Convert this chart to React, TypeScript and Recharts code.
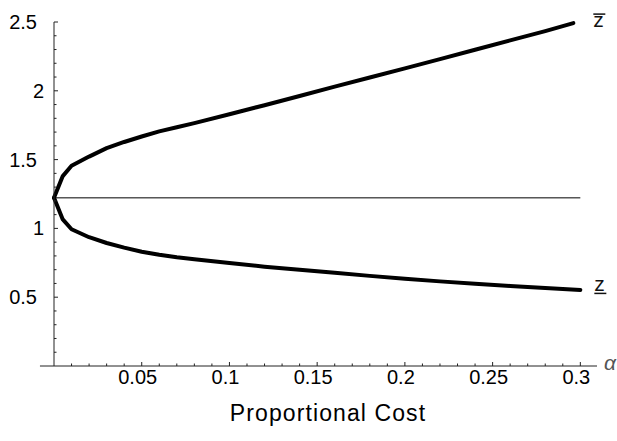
import React from 'react';
import { LineChart, Line, XAxis, YAxis, ReferenceLine } from 'recharts';

const alphaUpper = [0, 0.005, 0.01, 0.02, 0.03, 0.04, 0.05, 0.06, 0.07, 0.08, 0.1, 0.12, 0.14, 0.16, 0.18, 0.2, 0.22, 0.24, 0.26, 0.28, 0.296];
const zUpper = [1.222, 1.38, 1.455, 1.522, 1.583, 1.628, 1.668, 1.705, 1.735, 1.765, 1.83, 1.895, 1.962, 2.03, 2.097, 2.163, 2.23, 2.298, 2.366, 2.434, 2.492];
const alphaLower = [0, 0.005, 0.01, 0.02, 0.03, 0.04, 0.05, 0.06, 0.07, 0.08, 0.1, 0.12, 0.14, 0.16, 0.18, 0.2, 0.22, 0.24, 0.26, 0.28, 0.3];
const zLower = [1.222, 1.065, 0.994, 0.936, 0.894, 0.86, 0.83, 0.808, 0.79, 0.775, 0.748, 0.722, 0.7, 0.678, 0.655, 0.634, 0.615, 0.598, 0.582, 0.567, 0.553];
const zStar = 1.222;

const xTicks = [0.01, 0.02, 0.03, 0.04, 0.05, 0.06, 0.07, 0.08, 0.09, 0.1, 0.11, 0.12, 0.13, 0.14, 0.15, 0.16, 0.17, 0.18, 0.19, 0.2, 0.21, 0.22, 0.23, 0.24, 0.25, 0.26, 0.27, 0.28, 0.29, 0.3];
const yTicks = [0.1, 0.2, 0.3, 0.4, 0.5, 0.6, 0.7, 0.8, 0.9, 1, 1.1, 1.2, 1.3, 1.4, 1.5, 1.6, 1.7, 1.8, 1.9, 2, 2.1, 2.2, 2.3, 2.4, 2.5];
const xDomain = [0, 0.3095];
const yDomain = [0, 2.5];
const xAxisLeftExtent = -0.008;

const xTitle = 'Proportional Cost';
const xSymbol = 'α';
const upperName = 'z';
const lowerName = 'z';

const upperData = alphaUpper.map((a, i) => ({ a, z: zUpper[i] }));
const lowerData = alphaLower.map((a, i) => ({ a, z: zLower[i] }));

const FONT = '"Liberation Sans", Arial, Helvetica, sans-serif';
const AXIS = '#222';

const isMajor = (v: number, step: number) => Math.abs(v / step - Math.round(v / step)) < 1e-6;

function XTick(props: any) {
  const { x, y, payload } = props;
  const v = payload.value;
  const major = isMajor(v, 0.05);
  return (
    <g>
      <line x1={x} x2={x} y1={y} y2={y - (major ? 4 : 2.5)} stroke={AXIS} strokeWidth={1} />
      {major && (
        <text x={x - 4} y={y + 18} textAnchor="middle" fontFamily={FONT} fontSize={20} fill="#000">
          {String(v)}
        </text>
      )}
    </g>
  );
}

function YTick(props: any) {
  const { x, y, payload } = props;
  const v = payload.value;
  const major = isMajor(v, 0.5);
  const isInt = Number.isInteger(v);
  return (
    <g>
      <line x1={x} x2={x + (major ? 4 : 2.5)} y1={y} y2={y} stroke={AXIS} strokeWidth={1} />
      {major && (
        <text x={x - (isInt ? 10 : 17)} y={y + 7} textAnchor="end" fontFamily={FONT} fontSize={20} fill="#000">
          {String(v)}
        </text>
      )}
    </g>
  );
}

function XLabels(props: any) {
  const vb = props.viewBox || {};
  const { x = 0, y = 0, width = 0 } = vb;
  return (
    <g>
      <text x={x + width / 2 + 2.5} y={y + 55} textAnchor="middle" fontFamily={FONT} fontSize={23} letterSpacing={1.1} fill="#000">
        {xTitle}
      </text>
      <text x={x + width + 7} y={y + 4} fontFamily={FONT} fontStyle="italic" fontSize={21} fill="#555">
        {xSymbol}
      </text>
    </g>
  );
}

function UpperEnd(props: any) {
  const { x, y, index } = props;
  if (index !== upperData.length - 1) return null;
  return (
    <g>
      <text x={x + 20} y={y + 4} fontFamily={FONT} fontSize={21} fill="#111">{upperName}</text>
      <line x1={x + 20} x2={x + 32} y1={y - 9} y2={y - 9} stroke="#111" strokeWidth={1.5} />
    </g>
  );
}

function LowerEnd(props: any) {
  const { x, y, index } = props;
  if (index !== lowerData.length - 1) return null;
  return (
    <g>
      <text x={x + 14} y={y + 1} fontFamily={FONT} fontSize={21} fill="#111">{lowerName}</text>
      <line x1={x + 14} x2={x + 26} y1={y + 3.5} y2={y + 3.5} stroke="#111" strokeWidth={1.5} />
    </g>
  );
}

export default function App() {
  return (
    <div style={{ position: 'absolute', left: 0, top: 0, background: '#fff' }}>
      <LineChart width={617} height={441} margin={{ top: 22, right: 20, left: 0, bottom: 0 }}>
        <XAxis
          type="number"
          dataKey="a"
          domain={xDomain}
          ticks={xTicks}
          interval={0}
          tickSize={0}
          tickMargin={0}
          tick={<XTick />}
          tickLine={false}
          axisLine={{ stroke: AXIS, strokeWidth: 1 }}
          height={75}
          allowDecimals
          label={<XLabels />}
        />
        <YAxis
          type="number"
          dataKey="z"
          domain={yDomain}
          ticks={yTicks}
          interval={0}
          tickSize={0}
          tickMargin={0}
          tick={<YTick />}
          tickLine={false}
          axisLine={{ stroke: AXIS, strokeWidth: 1 }}
          width={54}
        />
        <ReferenceLine
          segment={[{ x: xAxisLeftExtent, y: 0 }, { x: 0, y: 0 }]}
          ifOverflow="visible"
          stroke={AXIS}
          strokeWidth={1}
        />
        <ReferenceLine
          segment={[{ x: 0, y: zStar }, { x: 0.3, y: zStar }]}
          stroke="#000"
          strokeWidth={1}
        />
        <Line
          data={upperData}
          dataKey="z"
          type="linear"
          stroke="#000"
          strokeWidth={4}
          strokeLinejoin="round"
          strokeLinecap="round"
          dot={false}
          isAnimationActive={false}
          label={<UpperEnd />}
        />
        <Line
          data={lowerData}
          dataKey="z"
          type="linear"
          stroke="#000"
          strokeWidth={4}
          strokeLinejoin="round"
          strokeLinecap="round"
          dot={false}
          isAnimationActive={false}
          label={<LowerEnd />}
        />
      </LineChart>
    </div>
  );
}
